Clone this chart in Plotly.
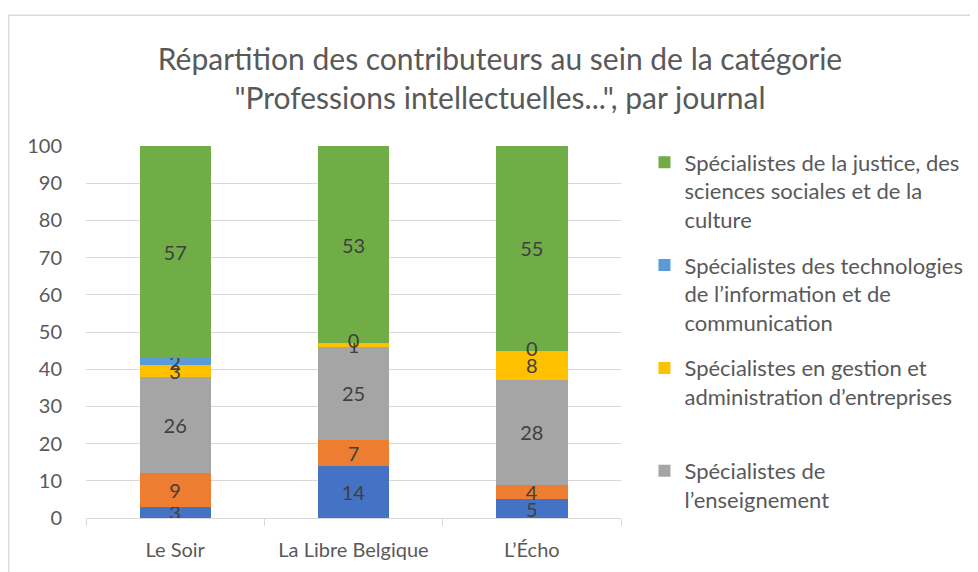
import plotly.graph_objects as go

journaux = ["Le Soir", "La Libre Belgique", "L’Écho"]

series_names = [
    "Spécialistes des sciences techniques",
    "Spécialistes de la santé",
    "Spécialistes de<br>l’enseignement",
    "Spécialistes en gestion et<br>administration d’entreprises<br>\u00a0",
    "Spécialistes des technologies<br>de l’information et de<br>communication",
    "Spécialistes de la justice, des<br>sciences sociales et de la<br>culture",
]
sciences_techniques = [3, 14, 5]
sante = [9, 7, 4]
enseignement = [26, 25, 28]
gestion = [3, 1, 8]
tic = [2, 0, 0]
justice = [57, 53, 55]
series_values = [sciences_techniques, sante, enseignement, gestion, tic, justice]
series_colors = ["#4472C4", "#ED7D31", "#A5A5A5", "#FFC000", "#5B9BD5", "#70AD47"]
in_legend = [False, False, True, True, True, True]
legend_rank = [6, 5, 4, 3, 2, 1]

y_ticks = list(range(0, 101, 10))

FONT = "Lato"
LABEL_COLOR = "#404040"
fig = go.Figure()
bases = [0, 0, 0]
zero_x, zero_y, zero_t = [], [], []
for i, (name, vals, col, leg) in enumerate(zip(series_names, series_values, series_colors, in_legend)):
    fig.add_trace(go.Bar(
        x=journaux, y=vals, name=name,
        marker=dict(color=col, line=dict(width=0)),
        text=[str(v) if v != 0 else "" for v in vals],
        textposition="inside", insidetextanchor="middle",
        constraintext="none", textangle=0,
        textfont=dict(family=FONT, size=20, color=LABEL_COLOR),
        showlegend=leg, legendgroup=f"g{i}", legendrank=legend_rank[i],
        hoverinfo="x+y+name",
    ))
    for j, v in enumerate(vals):
        if v == 0:
            zero_x.append(journaux[j])
            zero_y.append(bases[j])
            zero_t.append(str(v))
        bases[j] += v

# labels of empty (0) segments, drawn at the segment's position
fig.add_trace(go.Scatter(
    x=zero_x, y=zero_y, text=zero_t, mode="text",
    textfont=dict(family=FONT, size=20, color=LABEL_COLOR),
    showlegend=False, hoverinfo="skip", cliponaxis=False,
))

# page offset (body margin) compensation
OFF = 8
W, H = 978 - OFF, 572 - OFF
L = 86 - OFF
R = W - (621.5 - OFF)
T = 145.5 - OFF
B = H - (518 - OFF)
pw, ph = W - L - R, H - T - B

def px_x(p):  # page px -> paper
    return (p - OFF - L) / pw

def px_y(p):
    return (H - B - (p - OFF)) / ph

fig.update_layout(
    width=W, height=H,
    margin=dict(l=L, r=R, t=T, b=B, autoexpand=False),
    barmode="stack", bargap=0.6,
    plot_bgcolor="white", paper_bgcolor="white",
    font=dict(family=FONT, color="#595959", size=20),
    title=dict(
        text="Répartition des contributeurs au sein de la catégorie<br>\"Professions intellectuelles...\", par journal",
        x=(500 - OFF) / W, xref="container", xanchor="center",
        y=1 - 62 / H, yref="container", yanchor="top",
        font=dict(family=FONT, size=30, color="#595959"),
    ),
    legend=dict(
        x=px_x(645), xanchor="left", y=px_y(141), yanchor="top",
        traceorder="grouped", tracegroupgap=14, maxheight=520,
        valign="top", font=dict(family=FONT, size=22, color="#595959"),
        bgcolor="rgba(0,0,0,0)",
    ),
    xaxis=dict(
        showline=True, linecolor="#D9D9D9", linewidth=1,
        ticks="outside", tickson="boundaries", ticklen=7, tickcolor="#D9D9D9",
        showgrid=False, tickfont=dict(size=20, color="#595959"),
        ticklabelstandoff=14,
    ),
    yaxis=dict(
        range=[0, 100], tickvals=y_ticks, showline=False, zeroline=False,
        showgrid=True, gridcolor="#D9D9D9", gridwidth=1,
        ticks="", ticklabelstandoff=23, tickfont=dict(size=20, color="#595959"),
    ),
    shapes=[dict(
        type="rect", xref="paper", yref="paper",
        x0=px_x(8.5), x1=px_x(995), y0=px_y(14.5), y1=px_y(610),
        line=dict(color="#D9D9D9", width=1.5), fillcolor="rgba(0,0,0,0)", layer="below",
    )],
)

fig.write_html("out.html")
